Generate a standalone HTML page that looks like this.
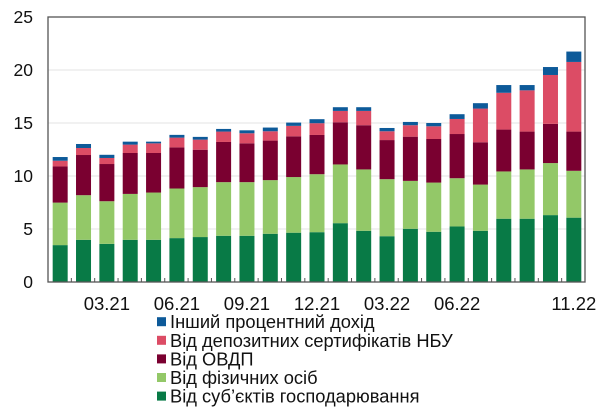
<!DOCTYPE html>
<html><head><meta charset="utf-8"><style>
body{margin:0;background:#fff;}
svg text{font-family:"Liberation Sans",sans-serif;fill:#111;}
</style></head><body>
<svg width="610" height="407" id="c"></svg>
<script>
const categories=["01.21","02.21","03.21","04.21","05.21","06.21","07.21","08.21","09.21","10.21","11.21","12.21","01.22","02.22","03.22","04.22","05.22","06.22","07.22","08.22","09.22","10.22","11.22"];
const business=[3.48,3.98,3.6,3.98,3.98,4.14,4.24,4.36,4.36,4.55,4.65,4.7,5.55,4.83,4.32,5.02,4.74,5.24,4.83,5.97,5.97,6.31,6.07];
const households=[4.01,4.21,4.02,4.33,4.46,4.68,4.71,5.06,5.06,5.06,5.25,5.47,5.54,5.79,5.38,4.52,4.64,4.55,4.36,4.46,4.65,4.91,4.42];
const ovdp=[3.41,3.79,3.51,3.86,3.73,3.88,3.53,3.79,3.66,3.73,3.84,3.7,3.98,4.17,3.69,4.17,4.11,4.17,3.99,3.95,3.57,3.7,3.7];
const nbu=[0.54,0.66,0.57,0.79,0.91,0.92,0.95,0.98,0.95,0.88,0.99,1.11,1.07,1.35,0.83,1.08,1.2,1.42,3.18,3.47,3.89,4.61,6.57];
const other=[0.35,0.38,0.3,0.28,0.16,0.26,0.26,0.25,0.28,0.35,0.31,0.38,0.35,0.35,0.31,0.31,0.31,0.45,0.51,0.73,0.5,0.75,0.98];
const yTicks=[0,5,10,15,20,25];
const xLabelIdx=[2,5,8,11,14,17,22];
const xLabels=["03.21","06.21","09.21","12.21","03.22","06.22","11.22"];
const seriesNames=["Інший процентний дохід","Від депозитних сертифікатів НБУ","Від ОВДП","Від фізичних осіб","Від суб’єктів господарювання"];
const NS="http://www.w3.org/2000/svg",svg=document.getElementById('c');
const L=48,R=585,T=17,B=282;
const y=v=>B-(v/25)*(B-T);
const step=(R-L)/categories.length;
const x=i=>L+step*i+ (step-15)/2+0.5;
function mk(t,a){const e=document.createElementNS(NS,t);for(const k in a)e.setAttribute(k,a[k]);svg.appendChild(e);return e;}
yTicks.forEach(v=>{
 if(v>0&&v<25){const g=mk('line',{x1:L,x2:R,y1:y(v),y2:y(v),stroke:'#e3e3e3','stroke-width':1});
 
 }
 const t=mk('text',{x:33,y:y(v)+6,'text-anchor':'end','font-size':17.5});t.textContent=v;
 
 
});
const series=[business,households,ovdp,nbu,other];
const colors=["#087a46","#93c868","#7a0030","#dc4c65","#0d5a99"];
const names=["bar-business","bar-households","bar-ovdp","bar-nbu","bar-other"];
categories.forEach((c,i)=>{
 let base=0;
 series.forEach((s,k)=>{
  const r=mk('rect',{x:x(i),width:15,y:y(base+s[i]),height:y(base)-y(base+s[i]),fill:colors[k]});
  
  
  base+=s[i];
 });
 if(i>0){const tk=mk('line',{x1:L+step*i,x2:L+step*i,y1:B,y2:B-4,stroke:'#555','stroke-width':1});
 
 }
});
const fr=mk('rect',{x:L,y:T,width:R-L,height:B-T,fill:'none',stroke:'#555','stroke-width':1.3});


xLabelIdx.forEach((idx,j)=>{
 const t=mk('text',{x:x(idx)+7.5,y:310,'text-anchor':'middle','font-size':18.5});t.textContent=xLabels[j];
 
 
});
const legColors=["#0d5a99","#dc4c65","#7a0030","#93c868","#087a46"];
seriesNames.forEach((n,k)=>{
 const cy=321.7+k*18.6;
 const s=mk('rect',{x:157,y:cy-4.5,width:9,height:9,fill:legColors[k]});
 
 
 const t=mk('text',{x:170,y:cy+6.5,'font-size':18.3});t.textContent=n;
 
 
});
</script>
</body></html>
